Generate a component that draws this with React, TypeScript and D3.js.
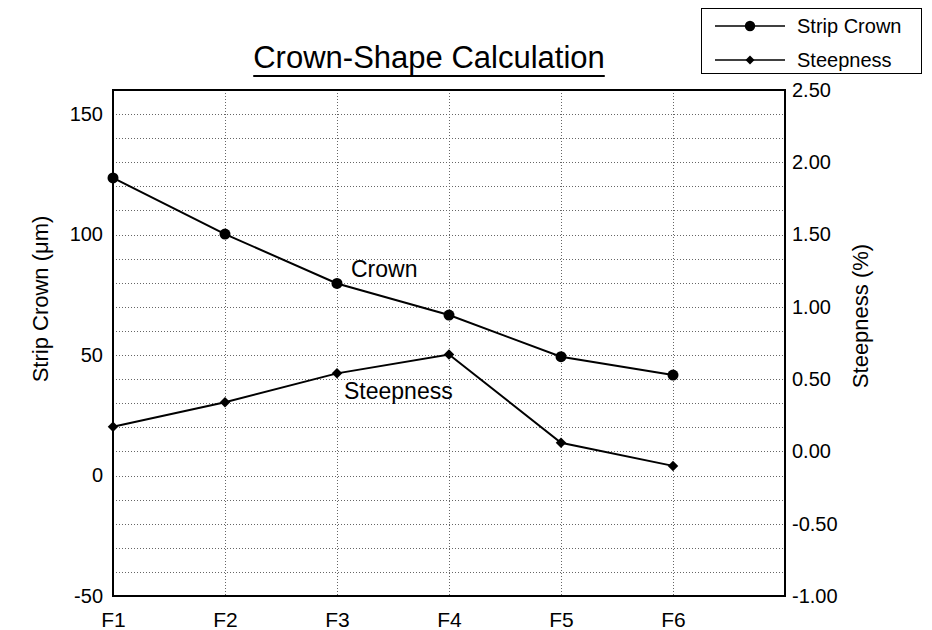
import React, { useEffect, useRef } from 'react';
import * as d3 from 'd3';

const categories = ['F1', 'F2', 'F3', 'F4', 'F5', 'F6'];
const crownValues = [123.5, 100.2, 79.7, 66.6, 49.3, 41.7];
const steepnessValues = [0.17, 0.34, 0.54, 0.67, 0.06, -0.10];
const leftTicks = [-50, 0, 50, 100, 150];
const rightTicks = [-1, -0.5, 0, 0.5, 1, 1.5, 2, 2.5];
const legendItems = ['Strip Crown', 'Steepness'];

const FONT = '"Liberation Sans", Arial, sans-serif';

// hyphen minus like the original, not the unicode one
const fmt = (spec: string) => (d: any) => d3.format(spec)(d).replace('\u2212', '-');

function App() {
    const chartRef = useRef<SVGSVGElement>(null);

    useEffect(() => {
        const svg = d3.select(chartRef.current);
        svg.selectAll('*').remove();

        const left = 113, right = 785, top = 90, bottom = 596;

        const x = d3.scaleLinear().domain([0, categories.length]).range([left, right]);
        const yL = d3.scaleLinear().domain([-50, 160]).range([bottom, top]);
        const yR = d3.scaleLinear().domain([-1, 2.5]).range([bottom, top]);

        // grid
        const grid = svg.append('g')
            .attr('stroke', '#666')
            .attr('stroke-width', 1)
            .attr('stroke-dasharray', '1,2');
        grid.selectAll('.hg')
            .data(d3.range(-40, 160, 10))
            .enter()
            .append('line')
            .attr('x1', left).attr('x2', right)
            .attr('y1', d => Math.round(yL(d)) + 0.5)
            .attr('y2', d => Math.round(yL(d)) + 0.5);
        grid.selectAll('.vg')
            .data(d3.range(1, categories.length))
            .enter()
            .append('line')
            .attr('y1', top).attr('y2', bottom)
            .attr('x1', d => Math.round(x(d)) + 0.5)
            .attr('x2', d => Math.round(x(d)) + 0.5);

        // frame
        svg.append('rect')
            .attr('x', left).attr('y', top)
            .attr('width', right - left).attr('height', bottom - top)
            .attr('fill', 'none')
            .attr('stroke', '#000')
            .attr('stroke-width', 2);

        // axes
        const styleAxis = (size: number) => (g: any) => {
            g.select('.domain').remove();
            g.selectAll('text')
                .attr('font-family', FONT)
                .attr('font-size', size)
                .attr('fill', '#000');
        };

        svg.append('g')
            .attr('transform', `translate(${left},0)`)
            .call(d3.axisLeft(yL).tickValues(leftTicks).tickSize(0).tickPadding(10).tickFormat(fmt('d')))
            .call(styleAxis(20));

        svg.append('g')
            .attr('transform', `translate(${right},0)`)
            .call(d3.axisRight(yR).tickValues(rightTicks).tickSize(0).tickPadding(7).tickFormat(fmt('.2f')))
            .call(styleAxis(20));

        svg.append('g')
            .attr('transform', `translate(0,${bottom})`)
            .call(d3.axisBottom(x).tickValues(d3.range(categories.length)).tickSize(0).tickPadding(16)
                .tickFormat((d: any) => categories[d]))
            .call(styleAxis(21));

        // lines
        const crownLine = d3.line<number>().x((d, i) => x(i)).y(d => yL(d));
        const steepLine = d3.line<number>().x((d, i) => x(i)).y(d => yR(d));

        svg.append('path')
            .datum(crownValues)
            .attr('d', crownLine)
            .attr('fill', 'none')
            .attr('stroke', '#000')
            .attr('stroke-width', 2);

        svg.append('path')
            .datum(steepnessValues)
            .attr('d', steepLine)
            .attr('fill', 'none')
            .attr('stroke', '#000')
            .attr('stroke-width', 2);

        const circle = d3.symbol().type(d3.symbolCircle).size(95);
        const diamond = d3.symbol().type(d3.symbolSquare).size(55);

        svg.selectAll('.crown-pt')
            .data(crownValues)
            .enter()
            .append('path')
            .attr('d', circle)
            .attr('transform', (d, i) => `translate(${x(i)},${yL(d)})`)
            .attr('fill', '#000');

        svg.selectAll('.steep-pt')
            .data(steepnessValues)
            .enter()
            .append('path')
            .attr('d', diamond)
            .attr('transform', (d, i) => `translate(${x(i)},${yR(d)}) rotate(45)`)
            .attr('fill', '#000');

        // in-plot labels
        svg.append('text')
            .attr('x', x(2) + 14)
            .attr('y', yL(crownValues[2]) - 6)
            .attr('font-family', FONT)
            .attr('font-size', 23)
            .text('Crown');

        svg.append('text')
            .attr('x', x(2) + 7)
            .attr('y', yR(steepnessValues[2]) + 26)
            .attr('font-family', FONT)
            .attr('font-size', 23)
            .text('Steepness');

        // title
        const title = svg.append('text')
            .attr('x', 429)
            .attr('y', 68)
            .attr('text-anchor', 'middle')
            .attr('font-family', FONT)
            .attr('font-size', 31)
            .text('Crown-Shape Calculation');
        const tb = (title.node() as SVGTextElement).getBBox();
        svg.append('line')
            .attr('x1', tb.x).attr('x2', tb.x + tb.width)
            .attr('y1', 76).attr('y2', 76)
            .attr('stroke', '#000')
            .attr('stroke-width', 2);

        // axis titles
        svg.append('text')
            .attr('transform', `translate(48,${(top + bottom) / 2 - 44}) rotate(-90)`)
            .attr('text-anchor', 'middle')
            .attr('font-family', FONT)
            .attr('font-size', 22)
            .text('Strip Crown (\u03bcm)');

        svg.append('text')
            .attr('transform', `translate(868,${(top + bottom) / 2 - 27}) rotate(-90)`)
            .attr('text-anchor', 'middle')
            .attr('font-family', FONT)
            .attr('font-size', 22)
            .text('Steepness (%)');

        // legend
        const legend = svg.append('g');
        legend.append('rect')
            .attr('x', 701.5).attr('y', 8.5)
            .attr('width', 220).attr('height', 65)
            .attr('fill', '#fff')
            .attr('stroke', '#000')
            .attr('stroke-width', 1);

        const rows = legend.selectAll('.row')
            .data(legendItems)
            .enter()
            .append('g')
            .attr('transform', (d, i) => `translate(0,${26 + i * 34})`);
        rows.append('line')
            .attr('x1', 715).attr('x2', 785)
            .attr('stroke', '#000')
            .attr('stroke-width', 1.5);
        rows.append('path')
            .attr('d', (d, i) => (i === 0 ? d3.symbol().type(d3.symbolCircle).size(85)() : d3.symbol().type(d3.symbolSquare).size(40)()))
            .attr('transform', (d, i) => (i === 0 ? 'translate(750,0)' : 'translate(750,0) rotate(45)'))
            .attr('fill', '#000');
        rows.append('text')
            .attr('x', 797)
            .attr('dy', '0.35em')
            .attr('font-family', FONT)
            .attr('font-size', 20)
            .text(d => d);
    }, []);

    return (
        <svg ref={chartRef} width={932} height={630}
            style={{ position: 'absolute', left: 0, top: 0, background: '#fff' }}></svg>
    );
}

export default App;
